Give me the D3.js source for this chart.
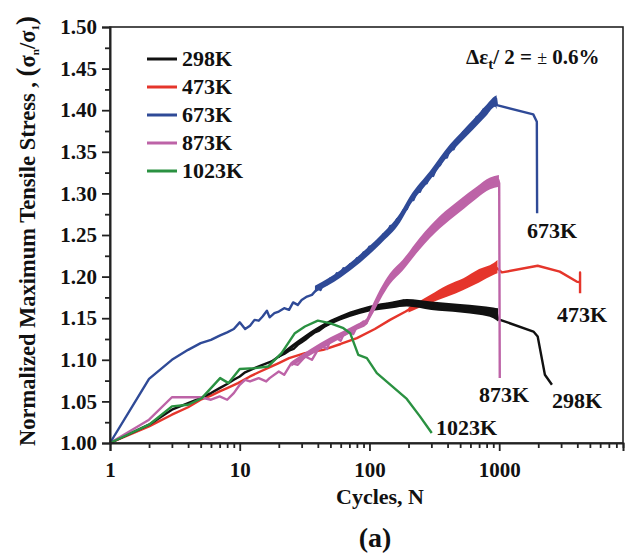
<!DOCTYPE html>
<html><head><meta charset="utf-8">
<script src="https://cdn.jsdelivr.net/npm/d3@7"></script>
<style>
body{margin:0;background:#fff;}
text{font-family:"Liberation Serif","Times New Roman",serif;font-weight:bold;fill:#111;}
</style></head>
<body><svg id="c" width="627" height="554"></svg>
<script>
// ---------- data ----------
const seriesNames = ["298K","473K","673K","873K","1023K"];
const xTickValues = [1,10,100,1000];
const yTickValues = [1.00,1.05,1.10,1.15,1.20,1.25,1.30,1.35,1.40,1.45,1.50];

const data298 = [[1,1.000],[2,1.022],[3,1.040],[4,1.048],[5,1.054],[6,1.060],[7,1.066],[8,1.071],[9,1.076],[10,1.080],[11,1.085],[13,1.090],[15,1.094],[17.6,1.098],[20,1.104],[22,1.107],[24,1.111],[26,1.113],[28,1.118],[30,1.121],[32,1.124],[35,1.129],[38,1.133],[41,1.135],[45,1.140],[49,1.143],[53,1.147],[57,1.149],[62,1.152],[67,1.153],[72,1.156],[78,1.157],[85,1.159],[92,1.160],[100,1.162],[108,1.162],[117,1.165],[126,1.164],[136,1.167],[147,1.166],[158,1.169],[170,1.168],[183,1.171],[197,1.168],[212,1.170],[228,1.166],[245,1.169],[264,1.164],[284,1.168],[306,1.163],[330,1.167],[355,1.162],[382,1.166],[411,1.161],[443,1.165],[477,1.160],[514,1.164],[553,1.159],[595,1.163],[641,1.158],[690,1.161],[743,1.156],[800,1.160],[860,1.154],[906,1.158],[940,1.152],[960,1.155],[980,1.149],[1016,1.148],[1836,1.134],[1980,1.128],[2250,1.082],[2550,1.070]];
const band298 = [[20,1.102,1.106],[50,1.142,1.148],[100,1.158,1.165],[150,1.162,1.170],[194,1.164,1.173],[300,1.160,1.170],[500,1.157,1.167],[700,1.154,1.165],[900,1.150,1.163],[980,1.146,1.162]];

const data473 = [[1,1.000],[2,1.020],[3,1.034],[4,1.043],[5,1.052],[6,1.057],[7,1.062],[8,1.066],[9.7,1.072],[12,1.080],[14,1.085],[17.6,1.092],[20,1.096],[24,1.102],[31.8,1.108],[44,1.112],[60,1.119],[80,1.126],[110,1.137],[144,1.148],[190,1.158],[231,1.166],[290,1.174],[350,1.182],[430,1.188],[528,1.194],[680,1.201],[851,1.208],[960,1.210],[1050,1.205],[1980,1.213],[2930,1.206],[3950,1.194],[4200,1.193],[4200,1.205],[4200,1.180]];
const band473 = [[200,1.157,1.163],[293,1.168,1.178],[400,1.176,1.190],[530,1.184,1.198],[700,1.193,1.209],[900,1.202,1.216],[970,1.204,1.220]];

const data673 = [[1,1.000],[2,1.077],[3,1.100],[4,1.112],[5,1.120],[6,1.124],[7,1.129],[8,1.133],[9,1.137],[10,1.145],[11,1.137],[12,1.141],[13,1.148],[14,1.147],[15,1.152],[16.2,1.159],[17,1.151],[18.5,1.156],[20,1.158],[22,1.162],[24,1.160],[25.8,1.169],[28,1.166],[30,1.172],[33,1.176],[36,1.178],[40,1.186],[42,1.184],[44,1.192],[47,1.191],[50,1.198],[53,1.196],[56,1.204],[59,1.202],[63,1.210],[67,1.208],[71,1.215],[75,1.214],[80,1.222],[85,1.221],[90,1.229],[95,1.229],[100,1.236],[106,1.235],[113,1.242],[121,1.243],[128,1.251],[136,1.251],[145,1.261],[154,1.260],[163,1.269],[172,1.270],[183,1.280],[194,1.281],[206,1.292],[218,1.292],[231,1.302],[245,1.302],[260,1.312],[276,1.312],[293,1.322],[310,1.321],[330,1.332],[350,1.334],[372,1.343],[395,1.343],[418,1.354],[445,1.353],[472,1.363],[500,1.366],[530,1.374],[563,1.374],[597,1.382],[633,1.383],[672,1.392],[713,1.393],[757,1.401],[802,1.401],[850,1.408],[880,1.406],[910,1.413],[930,1.411],[945,1.414],[960,1.406],[1830,1.395],[1950,1.386],[1960,1.276]];
const band673 = [[38,1.181,1.189],[60,1.199,1.208],[85,1.217,1.227],[121,1.239,1.249],[172,1.265,1.276],[206,1.286,1.297],[293,1.316,1.327],[418,1.348,1.359],[500,1.361,1.372],[633,1.377,1.389],[802,1.394,1.407],[930,1.404,1.417],[955,1.401,1.418]];

const data873 = [[1,1.000],[2,1.028],[3,1.055],[4,1.055],[5,1.055],[6,1.052],[7,1.056],[8,1.052],[9,1.060],[10,1.070],[11,1.076],[12,1.074],[14,1.078],[16,1.074],[17,1.078],[20,1.086],[22,1.082],[25,1.096],[28,1.094],[32,1.104],[36,1.100],[40,1.112],[44,1.116],[47,1.113],[50,1.124],[56,1.126],[60,1.123],[63,1.130],[71,1.134],[75,1.131],[80,1.140],[90,1.146],[95,1.144],[100,1.153],[105,1.158],[110,1.166],[115,1.170],[121,1.179],[126,1.182],[132,1.189],[138,1.192],[144,1.198],[152,1.200],[160,1.206],[170,1.208],[180,1.214],[195,1.218],[210,1.226],[227,1.230],[245,1.240],[265,1.244],[290,1.252],[318,1.256],[350,1.266],[383,1.268],[420,1.277],[460,1.280],[500,1.286],[545,1.289],[590,1.295],[630,1.298],[670,1.302],[715,1.305],[760,1.309],[805,1.311],[850,1.314],[900,1.315],[950,1.317],[985,1.316],[1000,1.312],[1010,1.078]];
const band873 = [[25,1.092,1.098],[50,1.119,1.127],[80,1.136,1.143],[95,1.142,1.150],[100,1.148,1.158],[121,1.172,1.185],[144,1.191,1.204],[180,1.207,1.220],[245,1.233,1.247],[350,1.258,1.273],[500,1.278,1.293],[670,1.294,1.308],[850,1.305,1.319],[995,1.308,1.322]];

const data1023 = [[1,1.000],[2,1.022],[3,1.044],[4,1.046],[5.1,1.054],[6,1.066],[7.06,1.078],[8.2,1.072],[10,1.089],[13.1,1.090],[16.6,1.092],[21,1.108],[26.6,1.132],[31.8,1.140],[40,1.147],[49.5,1.144],[63,1.138],[71,1.132],[82,1.106],[95.5,1.102],[114,1.084],[194,1.053],[245,1.032],[302,1.012]];

const curveLabels = ["673K","473K","873K","298K","1023K"];

// ---------- layout ----------
const svg = d3.select("#c");
const L=110, R=623, T=27, B=443;
const x = d3.scaleLog().domain([1,9000]).range([L,R]);
const y = d3.scaleLinear().domain([1.0,1.5]).range([B,T]);
const col = {"298K":"#111111","473K":"#e5352b","673K":"#2f4a97","873K":"#bd63a7","1023K":"#2a9141"};

const series = [
  {name:"473K", d:data473, band:band473},
  {name:"298K", d:data298, band:band298},
  {name:"873K", d:data873, band:band873},
  {name:"673K", d:data673, band:band673},
  {name:"1023K", d:data1023, band:null}
];

const g = svg.append("g");
const line = d3.line().x(p=>x(p[0])).y(p=>y(p[1]));
const area = d3.area().x(p=>x(p[0])).y0(p=>y(p[1])).y1(p=>y(p[2])).curve(d3.curveMonotoneX);
series.forEach(s=>{
  if(s.band) g.append("path").attr("d",area(s.band)).attr("fill",col[s.name]);
  g.append("path").attr("d",line(s.d)).attr("fill","none").attr("stroke",col[s.name])
   .attr("stroke-width",2.4).attr("stroke-linejoin","round");
});

// frame
svg.append("rect").attr("x",L).attr("y",T).attr("width",R-L).attr("height",B-T)
  .attr("fill","none").attr("stroke","#222").attr("stroke-width",1.6);

// axes
const minorX = [];
for(let e=0;e<4;e++) for(let k=2;k<=9;k++) minorX.push(k*Math.pow(10,e));
svg.append("g").attr("transform",`translate(0,${B})`)
  .call(d3.axisBottom(x).tickValues(xTickValues).tickFormat(d3.format("d")).tickSize(8).tickPadding(11));
svg.append("g").attr("transform",`translate(0,${B})`)
  .call(d3.axisBottom(x).tickValues(minorX.filter(v=>v<=9000)).tickFormat("").tickSize(5))
  .call(a=>a.select(".domain").remove());
svg.append("g").attr("transform",`translate(${L},0)`)
  .call(d3.axisLeft(y).tickValues(yTickValues).tickFormat(d3.format(".2f")).tickSize(8).tickPadding(5));
const minorY = d3.range(1.025,1.5,0.05);
svg.append("g").attr("transform",`translate(${L},0)`)
  .call(d3.axisLeft(y).tickValues(minorY).tickFormat("").tickSize(5))
  .call(a=>a.select(".domain").remove());
svg.selectAll(".domain").attr("stroke","#222").attr("stroke-width",2);
svg.selectAll(".tick line").attr("stroke","#222").attr("stroke-width",1.8);
svg.selectAll(".tick text").attr("font-family","Liberation Serif").attr("font-weight","bold")
  .attr("font-size",21).attr("fill","#111");

// legend
const lg = svg.append("g");
seriesNames.forEach((n,i)=>{
  const yy = 59 + i*28;
  lg.append("line").attr("x1",147).attr("x2",177).attr("y1",yy).attr("y2",yy)
    .attr("stroke",col[n]).attr("stroke-width",3);
  lg.append("text").attr("x",182).attr("y",yy+7).attr("font-size",22).text(n);
});

// curve labels
const labPos = {"673K":[527,238],"473K":[557,322],"873K":[479,402],"298K":[552,408],"1023K":[436,435]};
curveLabels.forEach(n=>{
  svg.append("text").attr("x",labPos[n][0]).attr("y",labPos[n][1]).attr("font-size",22).text(n);
});

// annotation
const an = svg.append("text").attr("x",466).attr("y",64).attr("font-size",21);
an.append("tspan").text("Δε");
an.append("tspan").attr("font-size",15).attr("dy",5).text("t");
an.append("tspan").attr("dy",-5).text("/ 2 = ");
an.append("tspan").attr("font-weight","normal").attr("font-size",18).text("±");
an.append("tspan").text(" 0.6%");

// axis titles
svg.append("text").attr("x",380).attr("y",504).attr("text-anchor","middle").attr("font-size",22).text("Cycles, N");
svg.append("text").attr("x",375).attr("y",547).attr("text-anchor","middle").attr("font-size",28).text("(a)");

const yl = svg.append("text").attr("transform","translate(35,231) rotate(-90)")
  .attr("text-anchor","middle").attr("font-size",22.5);
yl.append("tspan").text("Normalized Maximum Tensile Stress ,  ");
yl.append("tspan").attr("font-size",27).text("(");
yl.append("tspan").text("σ");
yl.append("tspan").attr("font-size",11).attr("dy",4).text("n");
yl.append("tspan").attr("dy",-4).text("/σ");
yl.append("tspan").attr("font-size",11).attr("dy",4).text("1");
yl.append("tspan").attr("dy",-4).attr("font-size",27).text(")");
</script></body></html>
